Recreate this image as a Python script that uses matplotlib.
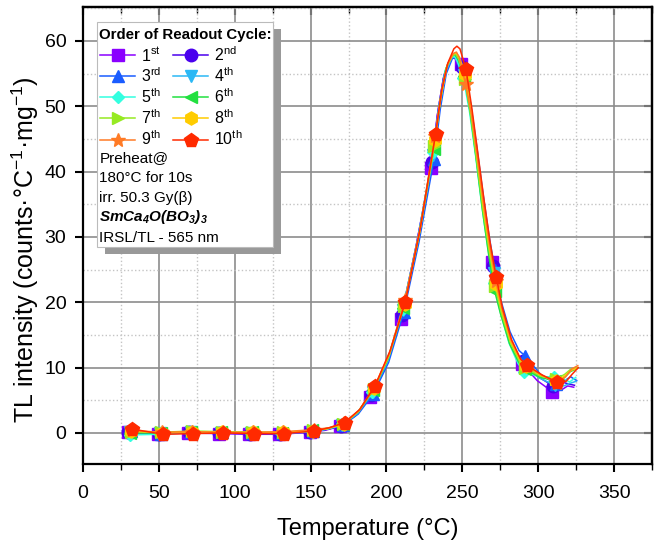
import matplotlib
matplotlib.use('Agg')
import matplotlib.pyplot as plt
from matplotlib.lines import Line2D
from matplotlib.patches import Rectangle
from matplotlib.ticker import MultipleLocator

plt.rcParams['font.family'] = ['Liberation Sans', 'DejaVu Sans']
plt.rcParams['mathtext.fontset'] = 'custom'
plt.rcParams['mathtext.rm'] = 'Liberation Sans'
plt.rcParams['mathtext.it'] = 'Liberation Sans:italic'
plt.rcParams['mathtext.bf'] = 'Liberation Sans:bold'
plt.rcParams['mathtext.bfit'] = 'Liberation Sans:italic:bold'
plt.rcParams['mathtext.default'] = 'regular'

# ---------------- data ----------------
temps = [32.4, 52.4, 72.4, 92.4, 112.4, 132.4, 152.4, 162.4, 172.4, 182.4,
         192.4, 202.4, 212.4, 222.4, 232.4, 236.4, 240.4, 244.4, 246.4, 248.4,
         252.4, 256.4, 260.4, 264.4, 268.4, 272.4, 276.4, 282.4, 288.4, 292.4,
         302.4, 312.4, 318.4, 322.4, 326.4]
marker_idx = [0, 1, 2, 3, 4, 5, 6, 8, 10, 12, 14, 20, 25, 29, 31]

labels = ['1$^{st}$', '2$^{nd}$', '3$^{rd}$', '4$^{th}$', '5$^{th}$',
          '6$^{th}$', '7$^{th}$', '8$^{th}$', '9$^{th}$', '10$^{th}$']
temp_shift = [-3.0, -2.5, -1.0, -1.5, -1.7, -1.2, -0.8, -0.5, -0.3, 0.0]

tl_1 = [0.1, -0.2, 0.0, -0.1, -0.2, -0.2, 0.1, 0.4, 1.0, 2.6, 5.5, 10.0, 17.4, 28.5, 40.6,
        48.5, 54.2, 57.0, 57.4, 57.3, 56.5, 52.5, 45.5, 38.0, 31.5, 26.1, 21.0, 15.5, 12.2,
        10.6, 8.0, 6.3, 6.6, 7.2, 7.0]
tl_2 = [0.2, -0.1, 0.1, 0.0, -0.1, -0.1, 0.2, 0.5, 1.1, 2.8, 5.8, 10.5, 18.0, 29.0, 41.5,
        49.2, 54.8, 57.2, 57.5, 57.2, 56.0, 51.5, 44.8, 37.5, 31.0, 25.5, 20.5, 15.2, 12.0,
        11.0, 8.6, 7.2, 7.8, 7.5, 7.3]
tl_3 = [0.3, -0.1, 0.2, 0.1, 0.0, 0.0, 0.3, 0.6, 1.2, 2.9, 6.0, 10.8, 18.5, 29.2, 42.0,
        49.5, 55.0, 57.3, 57.6, 57.0, 55.3, 50.5, 44.0, 37.0, 30.5, 25.0, 20.3, 15.5, 12.6,
        11.8, 9.0, 7.5, 8.0, 8.6, 8.0]
tl_4 = [0.2, 0.0, 0.1, 0.0, 0.0, -0.1, 0.2, 0.6, 1.2, 3.0, 6.2, 11.0, 18.8, 29.5, 42.5,
        49.8, 55.2, 57.4, 57.6, 56.9, 54.8, 50.0, 43.5, 36.5, 30.0, 24.5, 19.8, 14.6, 11.2,
        10.0, 8.4, 7.3, 7.2, 7.6, 7.9]
tl_5 = [-0.3, -0.2, 0.1, 0.1, 0.0, 0.0, 0.3, 0.6, 1.3, 3.1, 6.3, 11.2, 19.0, 29.8, 43.0,
        50.2, 55.5, 57.5, 57.7, 56.8, 54.3, 49.2, 42.5, 35.0, 28.5, 23.0, 18.8, 13.8, 10.6,
        9.4, 8.6, 8.6, 8.3, 7.8, 8.5]
tl_6 = [0.0, 0.0, 0.2, 0.1, 0.1, 0.0, 0.4, 0.7, 1.3, 3.2, 6.5, 11.4, 19.2, 30.0, 43.5,
        50.6, 55.8, 57.7, 57.9, 57.2, 54.6, 49.0, 41.8, 34.2, 27.5, 21.8, 18.2, 13.6, 10.8,
        9.8, 8.5, 8.0, 8.5, 9.4, 9.8]
tl_7 = [0.2, 0.1, 0.3, 0.2, 0.1, 0.1, 0.4, 0.7, 1.4, 3.3, 6.8, 11.8, 19.5, 30.4, 44.0,
        51.0, 56.0, 57.8, 58.0, 57.2, 54.2, 48.6, 41.5, 34.2, 28.0, 22.5, 18.5, 13.9, 11.0,
        9.9, 8.7, 8.2, 9.0, 9.8, 10.0]
tl_8 = [0.3, 0.0, 0.2, 0.1, 0.1, 0.1, 0.3, 0.7, 1.4, 3.4, 6.9, 12.0, 19.8, 30.8, 44.8,
        51.5, 56.2, 58.0, 58.2, 57.6, 55.0, 49.2, 42.0, 34.6, 28.2, 22.8, 18.8, 14.0, 11.2,
        10.2, 8.8, 7.9, 8.8, 9.6, 9.9]
tl_9 = [0.4, 0.1, 0.2, 0.1, 0.1, 0.2, 0.5, 0.8, 1.5, 3.5, 7.0, 12.3, 20.3, 31.2, 45.5,
        52.0, 56.4, 58.1, 58.3, 57.4, 53.4, 48.6, 41.8, 34.8, 28.6, 23.2, 19.0, 14.2, 11.4,
        10.3, 8.9, 7.6, 8.6, 9.8, 10.3]
tl_10 = [0.6, -0.2, -0.1, 0.0, -0.1, -0.1, 0.3, 0.8, 1.6, 3.6, 7.2, 12.6, 20.0, 31.5, 45.8,
         52.5, 56.6, 58.8, 59.2, 58.8, 55.7, 49.5, 42.5, 35.5, 29.0, 23.8, 19.2, 14.3, 11.3,
         10.4, 8.9, 7.8, 7.9, 9.0, 10.0]
series = [tl_1, tl_2, tl_3, tl_4, tl_5, tl_6, tl_7, tl_8, tl_9, tl_10]

colors = ['#8A00FF', '#4A00EE', '#1A5CFF', '#2BB8F5', '#33FFE0',
          '#22E040', '#96EA22', '#FFCC00', '#FF7B26', '#FF2A00']
markers = ['s', 'o', '^', 'v', 'D', '<', '>', 'h', '*', 'p']
msizes = [8.5, 9, 9, 9, 6.5, 9, 9, 9.5, 10.5, 10]

info_lines = ['Preheat@', '180°C for 10s', 'irr. 50.3 Gy(β)',
              r'$\mathbfit{SmCa_4O(BO_3)_3}$', 'IRSL/TL - 565 nm']

# ---------------- figure ----------------
fig = plt.figure(figsize=(6.61, 5.43), dpi=100)
ax = fig.add_axes([0.1256, 0.1455, 0.8608, 0.8416])

for i, vals in enumerate(series):
    xs = [t + temp_shift[i] for t in temps]
    ax.plot(xs, vals, color=colors[i], lw=1.1, marker=markers[i], ms=msizes[i],
            markevery=marker_idx, mec=colors[i], mfc=colors[i], zorder=3 + 0.1 * i)

ax.set_xlim(0, 375)
ax.set_ylim(-4.75, 65.2)
ax.xaxis.set_major_locator(MultipleLocator(50))
ax.xaxis.set_minor_locator(MultipleLocator(25))
ax.yaxis.set_major_locator(MultipleLocator(10))
ax.yaxis.set_minor_locator(MultipleLocator(5))

ax.grid(which='major', color='#8c8c8c', lw=1.2, ls='-', zorder=0)
ax.grid(which='minor', color='#c4c4c4', lw=1.0, ls=':', zorder=0)
ax.set_axisbelow(True)

for sp in ax.spines.values():
    sp.set_linewidth(1.6)

ax.tick_params(axis='both', which='major', labelsize=14, width=1.5, length=6,
               direction='out', top=False, right=False)
ax.tick_params(axis='x', which='major', pad=9)
ax.tick_params(axis='y', which='major', pad=6)
ax.tick_params(axis='x', which='minor', width=1.0, length=4, direction='out', top=False)
ax.tick_params(axis='y', which='minor', length=0)

# inward ticks on top and right (Origin style)
axt = ax.secondary_xaxis('top')
axt.set_xticks([0, 50, 100, 150, 200, 250, 300, 350])
axt.xaxis.set_minor_locator(MultipleLocator(25))
axt.tick_params(which='major', direction='in', length=6, width=1.5, labeltop=False)
axt.tick_params(which='minor', direction='in', length=4, width=1.0)
axr = ax.secondary_yaxis('right')
axr.set_yticks([0, 10, 20, 30, 40, 50, 60])
axr.tick_params(which='major', direction='in', length=6, width=1.5, labelright=False)
axr.tick_params(which='minor', length=0)
axt.spines['top'].set_linewidth(1.6)
axr.spines['right'].set_linewidth(1.6)

ax.set_xlabel('Temperature (°C)', fontsize=17, labelpad=12)
ax.set_ylabel('TL intensity (counts·°C$^{-1}$·mg$^{-1}$)', fontsize=18)
ax.yaxis.set_label_coords(-0.074, 0.47)

# legend panel with shadow
bx, by, bw, bh = 0.0251, 0.4748, 0.3084, 0.4917
shadow = Rectangle((bx + 0.0141, by - 0.0153), bw, bh, transform=ax.transAxes,
                   facecolor='#999999', edgecolor='none', zorder=5)
box = Rectangle((bx, by), bw, bh, transform=ax.transAxes,
                facecolor='white', edgecolor='#bbbbbb', lw=0.8, zorder=6)
ax.add_patch(shadow)
ax.add_patch(box)

order = [0, 2, 4, 6, 8, 1, 3, 5, 7, 9]
handles = [Line2D([], [], color=colors[k], lw=1.1, marker=markers[k], ms=msizes[k],
                  mec=colors[k], mfc=colors[k]) for k in order]
leg = ax.legend(handles, [labels[k] for k in order], ncol=2, loc='upper left',
                bbox_to_anchor=(0.0299, 0.9168), frameon=False, fontsize=11.5,
                handlelength=2.2, handletextpad=0.35, columnspacing=0.75,
                labelspacing=0.15, borderpad=0, borderaxespad=0)
leg.set_zorder(7)

ax.text(0.0286, 0.9387, 'Order of Readout Cycle:', transform=ax.transAxes,
        fontsize=10.8, fontweight='bold', va='center', ha='left', zorder=8)
info_y = [0.6702, 0.6252, 0.5814, 0.5412, 0.4952]
for txt, yy in zip(info_lines, info_y):
    ax.text(0.0286, yy, txt, transform=ax.transAxes, fontsize=11,
            va='center', ha='left', zorder=8)

fig.savefig('out.png', dpi=100)
